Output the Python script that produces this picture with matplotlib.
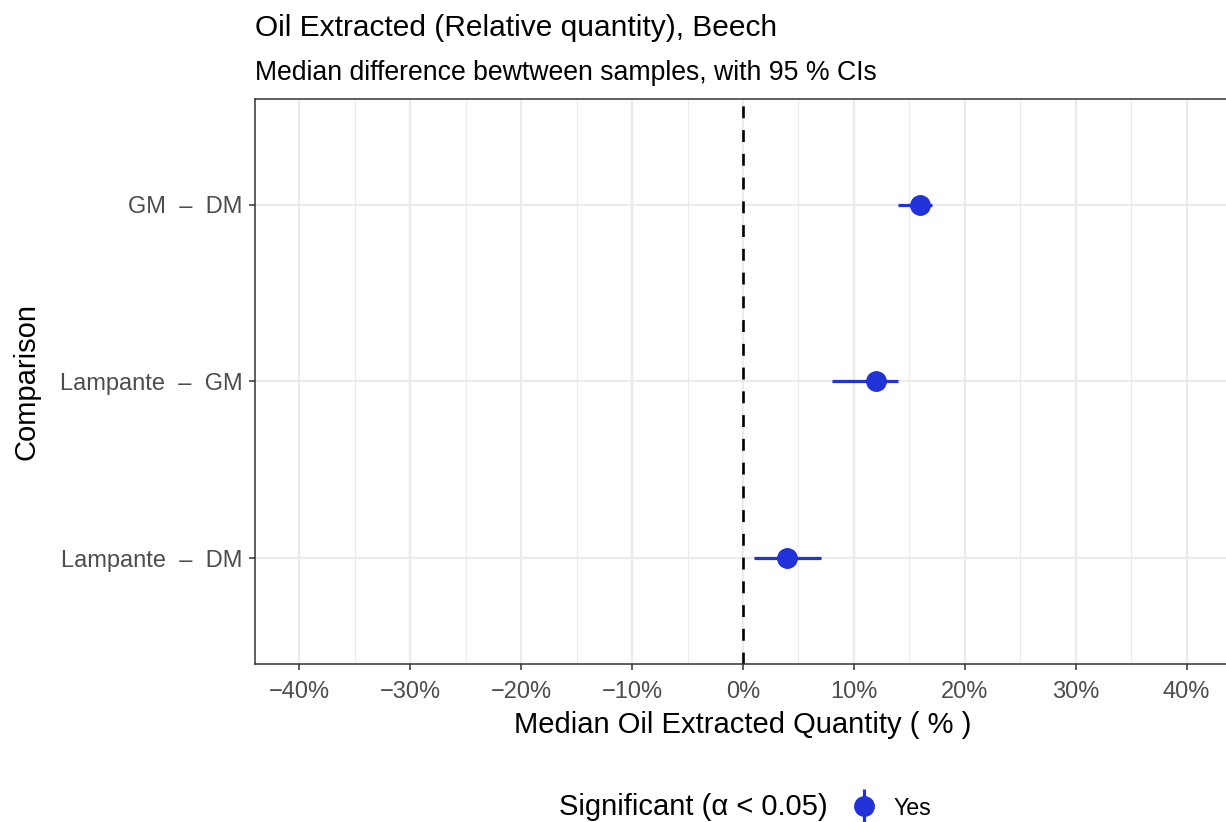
import matplotlib.pyplot as plt
from matplotlib.lines import Line2D
from matplotlib.legend_handler import HandlerTuple
from matplotlib.ticker import MultipleLocator, FuncFormatter

plt.rcParams['font.family'] = ['Liberation Sans', 'DejaVu Sans']

comparisons = ['Lampante  \u2013  DM', 'Lampante  \u2013  GM', 'GM  \u2013  DM']
median_diff = [4, 12, 16]
ci_low = [1, 8, 14]
ci_high = [7, 14, 17]

blue = '#2132D8'
grid_col = '#EBEBEB'

fig = plt.figure(figsize=(12.26, 8.22), dpi=100)
ax = fig.add_axes([255 / 1226, 158 / 822, 976 / 1226, 565 / 822])

ypos = list(range(1, len(comparisons) + 1))

# confidence intervals then medians
ax.hlines(ypos, ci_low, ci_high, color=blue, lw=2.3, zorder=3)
ax.plot(median_diff, ypos, 'o', color=blue, ms=14, zorder=4)

ax.axvline(0, color='black', lw=1.9, dashes=(4.5, 4.5), zorder=2)

ax.set_xlim(-44, 44)
ax.set_ylim(0.4, 3.6)
ax.xaxis.set_major_locator(MultipleLocator(10))
ax.xaxis.set_minor_locator(MultipleLocator(5))
ax.xaxis.set_major_formatter(FuncFormatter(lambda v, p: f'{v:.0f}%'.replace('-', '\u2212')))
ax.set_yticks(ypos)
ax.set_yticklabels(comparisons)

ax.grid(which='major', color=grid_col, lw=1.6, zorder=0)
ax.grid(which='minor', axis='x', color=grid_col, lw=0.8, zorder=0)
ax.set_axisbelow(True)

for s in ax.spines.values():
    s.set_color('#333333')
    s.set_linewidth(1.1)

ax.tick_params(which='major', length=4, width=1.1, color='#333333',
               labelsize=17, labelcolor='#4D4D4D')
ax.tick_params(axis='x', which='major', pad=8)
ax.tick_params(axis='y', which='major', pad=5)
ax.tick_params(which='minor', length=0)

ax.set_xlabel('Median Oil Extracted Quantity ( % )', fontsize=21)
ax.set_ylabel('Comparison', fontsize=21)
ax.xaxis.set_label_coords((743 - 255) / 976, (664 - 711) / 565)
ax.yaxis.set_label_coords((40 - 255) / 976, 0.5)

fig.text(255 / 1226, 1 - 36 / 822, 'Oil Extracted (Relative quantity), Beech',
         fontsize=21.5, ha='left', va='baseline')
fig.text(255 / 1226, 1 - 80 / 822, 'Median difference bewtween samples, with 95 % CIs',
         fontsize=19.2, ha='left', va='baseline')

# legend
fig.text(828 / 1226, 1 - 807 / 822, 'Significant (\u03b1 < 0.05)',
         fontsize=21, ha='right', va='center')
key = (Line2D([], [], color=blue, marker='|', ms=24, mew=2.3, ls='None'),
       Line2D([], [], color=blue, marker='o', ms=14, ls='None'))
fig.legend([key], ['Yes'], handler_map={tuple: HandlerTuple(ndivide=1)},
           loc='center left', bbox_to_anchor=(849 / 1226, 1 - 808 / 822),
           frameon=False, fontsize=16.7, handlelength=1.3, handletextpad=0.6,
           borderpad=0, borderaxespad=0)

fig.savefig('out.png', dpi=100)
